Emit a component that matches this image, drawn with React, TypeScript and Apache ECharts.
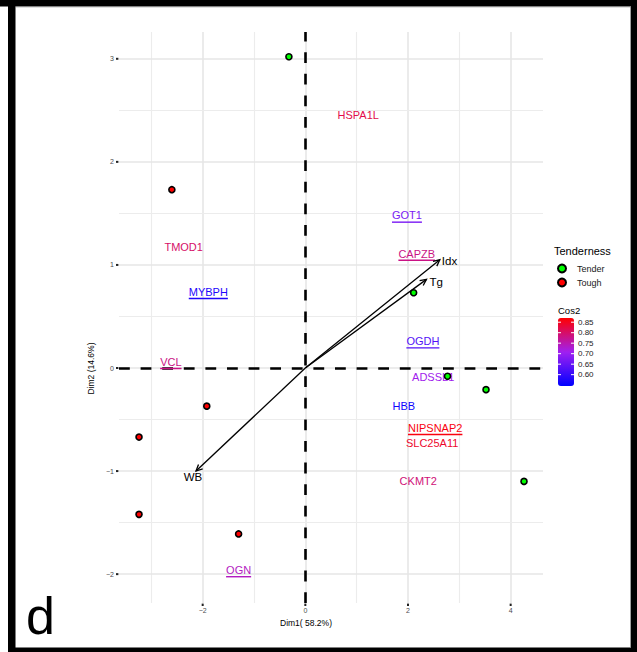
import React, { useEffect, useRef } from "react";
import * as echarts from "echarts";

const FONT = '"Liberation Sans", Arial, Helvetica, sans-serif';

// Individuals on the first two principal dimensions
const tenderPoints: [number, number][] = [
  [-0.32, 3.02],
  [2.11, 0.73],
  [2.77, -0.08],
  [3.52, -0.21],
  [4.26, -1.1],
];
const toughPoints: [number, number][] = [
  [-2.6, 1.73],
  [-1.92, -0.37],
  [-3.24, -0.67],
  [-3.24, -1.42],
  [-1.3, -1.61],
];

// Trait vectors
const arrowNames = ["Idx", "Tg", "WB"];
const arrowX = [2.62, 2.36, -2.13];
const arrowY = [1.05, 0.86, -1.0];

// Protein / gene labels with their cos2 quality
const geneNames = [
  "HSPA1L", "GOT1", "CAPZB", "TMOD1", "MYBPH", "OGDH", "VCL",
  "ADSSL1", "HBB", "NIPSNAP2", "SLC25A11", "CKMT2", "OGN",
];
const geneX = [1.03, 1.98, 2.17, -2.37, -1.89, 2.29, -2.62, 2.49, 1.92, 2.53, 2.47, 2.2, -1.3];
const geneY = [2.45, 1.48, 1.11, 1.17, 0.74, 0.26, 0.06, -0.09, -0.37, -0.58, -0.73, -1.1, -1.96];
const geneCos2 = [0.82, 0.67, 0.78, 0.8, 0.575, 0.63, 0.78, 0.71, 0.56, 0.86, 0.84, 0.79, 0.74];
const geneUnderlined = [false, true, true, false, true, true, true, false, false, true, false, false, true];

// Axis ranges and ticks
const xMin = -3.63;
const xMax = 4.63;
const yMin = -2.28;
const yMax = 3.26;
const xTicks = [-2, 0, 2, 4];
const yTicks = [-2, -1, 0, 1, 2, 3];
const xMinorGrid = [-3, -1, 1, 3];
const yMinorGrid = [-1.5, -0.5, 0.5, 1.5, 2.5];

// Colour bar scale
const cos2Min = 0.546;
const cos2Max = 0.87;
const cos2Ticks = [0.6, 0.65, 0.7, 0.75, 0.8, 0.85];
const cos2Colors = ["#0000ff", "#a020f0", "#ff0000"];

let measureCtx: CanvasRenderingContext2D | null = null;
function measure(text: string, font: string): number {
  if (!measureCtx) measureCtx = document.createElement("canvas").getContext("2d");
  if (!measureCtx) return text.length * 6;
  measureCtx.font = font;
  return measureCtx.measureText(text).width;
}

const minus = (v: number) => String(v).replace("-", "\u2212");

export default function App() {
  const ref = useRef<HTMLDivElement>(null);

  useEffect(() => {
    if (!ref.current) return;
    const chart = echarts.init(ref.current, null, { renderer: "svg" });

    const gridLeft = 119;
    const gridTop = 32;
    const gridWidth = 424;
    const gridHeight = 571;

    const barTop = 318;
    const barHeight = 68;
    const barLeft = 558;
    const barWidth = 16;
    const barY = (v: number) => barTop + ((cos2Max - v) / (cos2Max - cos2Min)) * barHeight;

    const majorLine = { color: "#e6e6e6", width: 1.6, type: "solid" };
    const minorLine = { color: "#ececec", width: 1.1, type: "solid" };

    const gridMarks = [
      ...xMinorGrid.map((v) => ({ xAxis: v, lineStyle: minorLine })),
      ...xTicks.map((v) => ({ xAxis: v, lineStyle: majorLine })),
      ...yMinorGrid.map((v) => ({ yAxis: v, lineStyle: minorLine })),
      ...yTicks.map((v) => ({ yAxis: v, lineStyle: majorLine })),
    ];

    const arrowLabelOffset: [number, number][] = [[2, 1], [3, 3], [-3, 6]];
    const arrowLabelAlign = ["left", "left", "center"];

    const graphics: any[] = [
      // frame
      { type: "rect", shape: { x: 0, y: 0, width: 637, height: 6.5 }, style: { fill: "#000" } },
      { type: "rect", shape: { x: 8, y: 0, width: 7.5, height: 652 }, style: { fill: "#000" } },
      { type: "rect", shape: { x: 631, y: 0, width: 6, height: 652 }, style: { fill: "#000" } },
      { type: "rect", shape: { x: 8, y: 647.5, width: 629, height: 4.5 }, style: { fill: "#000" } },
      { type: "rect", shape: { x: 15.5, y: 6.5, width: 615.5, height: 0.8 }, style: { fill: "#888" } },
      { type: "rect", shape: { x: 630.2, y: 6.5, width: 0.8, height: 641 }, style: { fill: "#888" } },
      // panel tag
      {
        type: "text",
        x: 26,
        y: 616,
        style: { text: "d", fontSize: 52, fontFamily: FONT, fill: "#000", align: "left", verticalAlign: "middle" },
      },
      // legend titles
      {
        type: "text",
        x: 554,
        y: 251,
        style: { text: "Tenderness", fontSize: 11, fontFamily: FONT, fill: "#000", align: "left", verticalAlign: "middle" },
      },
      {
        type: "text",
        x: 558,
        y: 310,
        style: { text: "Cos2", fontSize: 9.5, fontFamily: FONT, fill: "#000", align: "left", verticalAlign: "middle" },
      },
    ];
    cos2Ticks.forEach((v) => {
      const y = barY(v);
      graphics.push(
        { type: "line", shape: { x1: barLeft, y1: y, x2: barLeft + 3, y2: y }, style: { stroke: "#fff", lineWidth: 1 }, z: 10 },
        { type: "line", shape: { x1: barLeft + barWidth - 3, y1: y, x2: barLeft + barWidth, y2: y }, style: { stroke: "#fff", lineWidth: 1 }, z: 10 },
        {
          type: "text",
          x: barLeft + barWidth + 4,
          y,
          style: { text: v.toFixed(2), fontSize: 8, fontFamily: FONT, fill: "#222", align: "left", verticalAlign: "middle" },
        }
      );
    });

    const geneFont = `11px ${FONT}`;

    chart.setOption({
      animation: false,
      backgroundColor: "#fff",
      grid: { left: gridLeft, top: gridTop, width: gridWidth, height: gridHeight, containLabel: false },
      xAxis: {
        type: "value",
        min: xMin,
        max: xMax,
        axisLine: { show: false },
        splitLine: { show: false },
        axisTick: { show: false },
        axisLabel: {
          customValues: xTicks,
          formatter: (v: number) => minus(v),
          fontSize: 7,
          color: "#4d4d4d",
          fontFamily: FONT,
          margin: 4,
        },
        name: "Dim1( 58.2%)",
        nameLocation: "middle",
        nameGap: 11,
        nameTextStyle: { fontSize: 8.5, color: "#000", fontFamily: FONT, padding: [0, 50, 0, 0] },
      },
      yAxis: {
        type: "value",
        min: yMin,
        max: yMax,
        axisLine: { show: false },
        splitLine: { show: false },
        axisTick: { show: false },
        axisLabel: {
          customValues: yTicks,
          formatter: (v: number) => minus(v),
          fontSize: 7,
          color: "#4d4d4d",
          fontFamily: FONT,
          margin: 5,
        },
        name: "Dim2 (14.6%)",
        nameLocation: "middle",
        nameGap: 15,
        nameRotate: 90,
        nameTextStyle: { fontSize: 8.5, color: "#000", fontFamily: FONT, padding: [0, 102, 0, 0] },
      },
      legend: {
        data: ["Tender", "Tough"],
        orient: "vertical",
        left: 557,
        top: 263.5,
        padding: 0,
        itemWidth: 20,
        itemHeight: 8,
        itemGap: 4,
        selectedMode: false,
        textStyle: { fontSize: 9, color: "#1a1a1a", fontFamily: FONT },
      },
      visualMap: {
        type: "continuous",
        min: cos2Min,
        max: cos2Max,
        dimension: 2,
        seriesIndex: 2,
        calculable: false,
        hoverLink: false,
        orient: "vertical",
        left: barLeft,
        top: barTop,
        itemWidth: barWidth,
        itemHeight: barHeight,
        padding: 0,
        inRange: { color: cos2Colors },
      },
      graphic: graphics,
      series: [
        {
          name: "grid",
          type: "line",
          data: [],
          silent: true,
          z: 1,
          markLine: {
            z: 1,
            silent: true,
            symbol: "none",
            label: { show: false },
            animation: false,
            data: gridMarks,
          },
        },
        {
          name: "origin",
          type: "line",
          data: [],
          silent: true,
          z: 2,
          markLine: {
            z: 2,
            silent: true,
            symbol: "none",
            label: { show: false },
            animation: false,
            lineStyle: { color: "#000", width: 2.6, type: [10.8, 10.8] },
            data: [{ xAxis: 0 }, { yAxis: 0 }],
          },
        },
        {
          name: "genes",
          type: "custom",
          z: 3,
          silent: true,
          encode: { x: 0, y: 1 },
          data: geneNames.map((_, i) => [geneX[i], geneY[i], geneCos2[i]]),
          renderItem: (params: any, api: any) => {
            const i = params.dataIndex;
            const [px, py] = api.coord([api.value(0), api.value(1)]);
            const color = api.visual("color");
            const children: any[] = [
              {
                type: "text",
                x: px,
                y: py,
                style: {
                  text: geneNames[i],
                  fill: color,
                  fontSize: 11,
                  fontFamily: FONT,
                  align: "center",
                  verticalAlign: "middle",
                },
              },
            ];
            if (geneUnderlined[i]) {
              const w = measure(geneNames[i], geneFont);
              children.push({
                type: "rect",
                shape: { x: px - w / 2, y: py + 6, width: w, height: 1.4 },
                style: { fill: color },
              });
            }
            return { type: "group", children };
          },
        },
        {
          name: "vectors",
          type: "custom",
          z: 4,
          silent: true,
          encode: { x: 0, y: 1 },
          data: arrowNames.map((_, i) => [arrowX[i], arrowY[i]]),
          renderItem: (params: any, api: any) => {
            const i = params.dataIndex;
            const [ox, oy] = api.coord([0, 0]);
            const [tx, ty] = api.coord([api.value(0), api.value(1)]);
            const ang = Math.atan2(ty - oy, tx - ox);
            const len = 7;
            const spread = Math.PI / 7;
            const p1 = [tx - len * Math.cos(ang - spread), ty - len * Math.sin(ang - spread)];
            const p2 = [tx - len * Math.cos(ang + spread), ty - len * Math.sin(ang + spread)];
            const off = arrowLabelOffset[i];
            return {
              type: "group",
              children: [
                { type: "line", shape: { x1: ox, y1: oy, x2: tx, y2: ty }, style: { stroke: "#000", lineWidth: 1.3 } },
                {
                  type: "polyline",
                  shape: { points: [p1, [tx, ty], p2] },
                  style: { stroke: "#000", lineWidth: 1.3, fill: null },
                },
                {
                  type: "text",
                  x: tx + off[0],
                  y: ty + off[1],
                  style: {
                    text: arrowNames[i],
                    fill: "#000",
                    fontSize: 11.5,
                    fontFamily: FONT,
                    align: arrowLabelAlign[i],
                    verticalAlign: "middle",
                  },
                },
              ],
            };
          },
        },
        {
          name: "Tender",
          type: "scatter",
          z: 5,
          symbol: "circle",
          symbolSize: 6,
          data: tenderPoints,
          itemStyle: { color: "#00ff00", borderColor: "#000", borderWidth: 1.6, opacity: 1 },
        },
        {
          name: "Tough",
          type: "scatter",
          z: 5,
          symbol: "circle",
          symbolSize: 6,
          data: toughPoints,
          itemStyle: { color: "#ff0000", borderColor: "#000", borderWidth: 1.6, opacity: 1 },
        },
        {
          // small tick marks along the left edge of the panel
          name: "yTicks",
          type: "custom",
          z: 6,
          silent: true,
          clip: false,
          encode: { y: 0 },
          data: yTicks.map((v) => [v]),
          renderItem: (params: any, api: any) => {
            const [px, py] = api.coord([xMin, api.value(0)]);
            return { type: "rect", shape: { x: px - 3, y: py - 1, width: 2.4, height: 2 }, style: { fill: "#222" } };
          },
        },
        {
          // small tick marks along the bottom edge of the panel
          name: "xTicks",
          type: "custom",
          z: 6,
          silent: true,
          clip: false,
          encode: { x: 0 },
          data: xTicks.map((v) => [v]),
          renderItem: (params: any, api: any) => {
            const [px, py] = api.coord([api.value(0), yMin]);
            return { type: "rect", shape: { x: px - 1, y: py + 0.6, width: 2, height: 2.4 }, style: { fill: "#222" } };
          },
        },
      ],
    });

    return () => chart.dispose();
  }, []);

  return (
    <div
      ref={ref}
      style={{ position: "absolute", left: 0, top: 0, width: 637, height: 652, background: "#fff" }}
    />
  );
}
